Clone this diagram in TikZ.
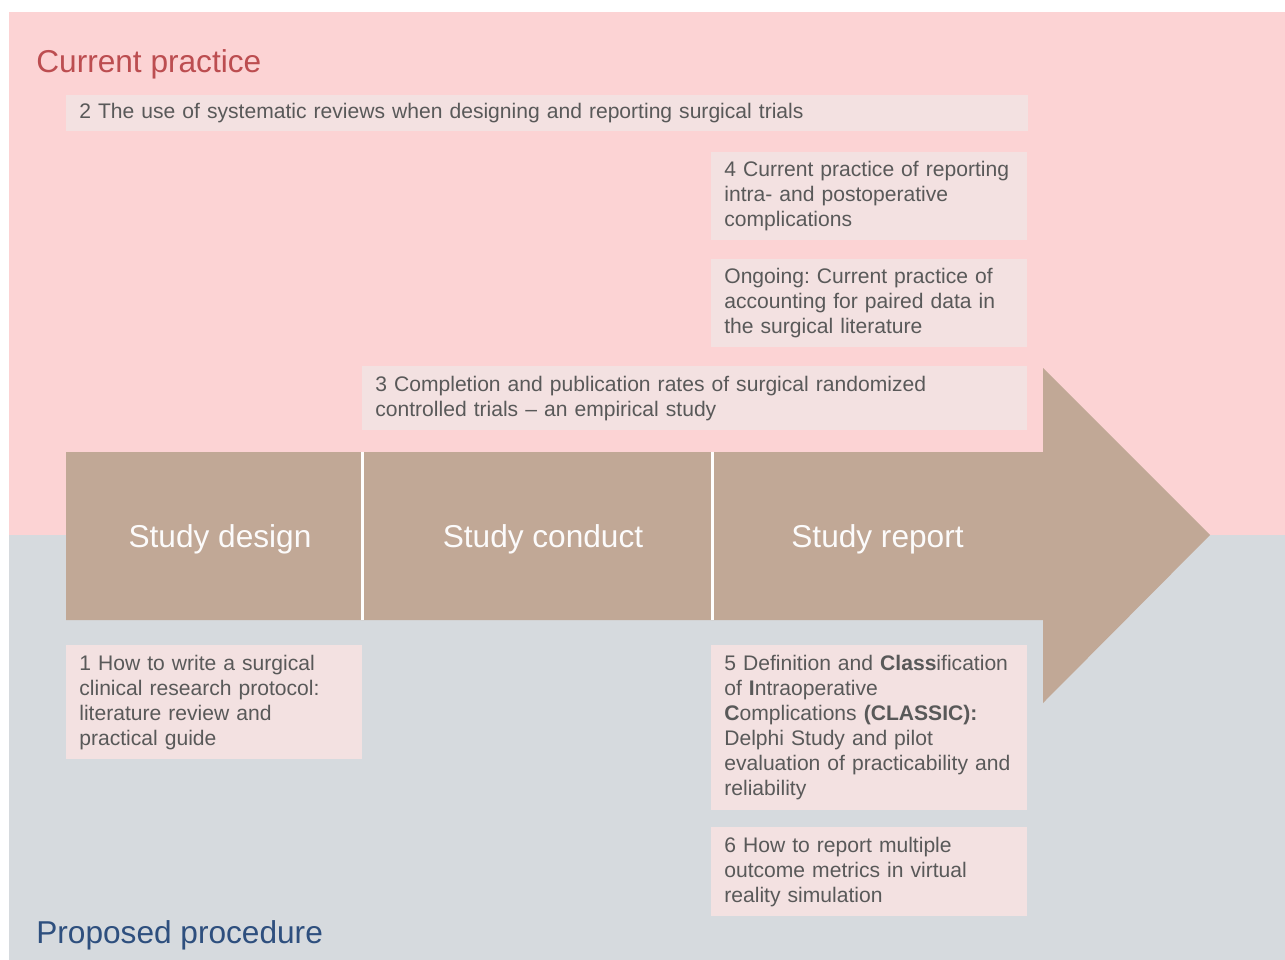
\documentclass[tikz,border=0pt]{standalone}
\usepackage{fontspec}
\setmainfont{Liberation Sans}
\frenchspacing
\definecolor{bgpink}{HTML}{FCD3D4}
\definecolor{bggray}{HTML}{D6DADE}
\definecolor{arrowtan}{HTML}{C1A896}
\definecolor{paperfill}{HTML}{F3E1E1}
\definecolor{papertext}{HTML}{595959}
\definecolor{titlered}{HTML}{BC4D50}
\definecolor{titleblue}{HTML}{2E4F7E}
\begin{document}
\begin{tikzpicture}[x=0.02cm,y=-0.02cm]
  \tikzset{ paper/.style={fill=paperfill,text=papertext,anchor=north west,align=left,
      inner xsep=0.26cm,inner ysep=0pt,font=\fontsize{12}{14.2}\selectfont},
    stage/.style={text=white!96!arrowtan,minimum height=3.36cm,text depth=0pt,
      inner sep=0pt,font=\fontsize{18}{21}\selectfont},
    title/.style={anchor=base west,inner sep=0pt,font=\fontsize{18}{21}\selectfont},
  }
  \useasboundingbox (0,0) rectangle (1285,960);
  \fill[white] (0,0) rectangle (1285,960);
  \fill[bgpink] (9,12) rectangle (1285,535);
  \fill[bggray] (9,535) rectangle (1285,960);

  % the big arrow through the three stages
  \fill[arrowtan] (66,452) -- (1043,452) -- (1043,368) -- (1210,535)
    -- (1043,703) -- (1043,620) -- (66,620) -- cycle;
  \node[stage,minimum width=5.92cm] (design) at (214,536) {};
  \node[stage,minimum width=7cm] (conduct) at (537,536) {};
  \node[stage,minimum width=6.62cm] (report) at (877.5,536) {Study report};
  \node[stage] at ([xshift=0.12cm]design.center) {Study design};
  \node[stage] at ([xshift=0.12cm]conduct.center) {Study conduct};
  \draw[white,line width=1.6pt] (design.north east) -- (design.south east);
  \draw[white,line width=1.6pt] (conduct.north east) -- (conduct.south east);

  \node[title,text=titlered] (current) at (36,72) {Current practice};
  \node[title,text=titleblue] (proposed) at (36,943) {Proposed procedure};

  % papers above the arrow
  \node[paper,text width=18.72cm,minimum height=0.72cm] (p2) at (66,95)
    {2 The use of systematic reviews when designing and reporting surgical trials};
  \node[paper,text width=5.8cm,minimum height=1.76cm] (p4) at (711,152)
    {4 Current practice of reporting\\intra- and postoperative\\complications};
  \node[paper,text width=5.8cm,minimum height=1.76cm] (ongoing) at (711,259)
    {Ongoing: Current practice of\\accounting for paired data in\\the surgical literature};
  \node[paper,text width=12.78cm,minimum height=1.28cm] (p3) at (362,366)
    {3 Completion and publication rates of surgical randomized\\controlled trials -- an empirical study};

  % papers below the arrow
  \node[paper,text width=5.4cm,minimum height=2.28cm] (p1) at (66,645)
    {1 How to write a surgical\\clinical research protocol:\\literature review and\\practical guide};
  \node[paper,text width=5.8cm,minimum height=3.3cm] (p5) at (711,645)
    {5 Definition and \textbf{Class}ification\\of \textbf{I}ntraoperative\\\textbf{C}omplications \textbf{(CLASSIC):}\\Delphi Study and pilot\\evaluation of practicability and\\reliability};
  \node[paper,text width=5.8cm,minimum height=1.78cm] (p6) at (711,827)
    {6 How to report multiple\\outcome metrics in virtual\\reality simulation};
\end{tikzpicture}
\end{document}
